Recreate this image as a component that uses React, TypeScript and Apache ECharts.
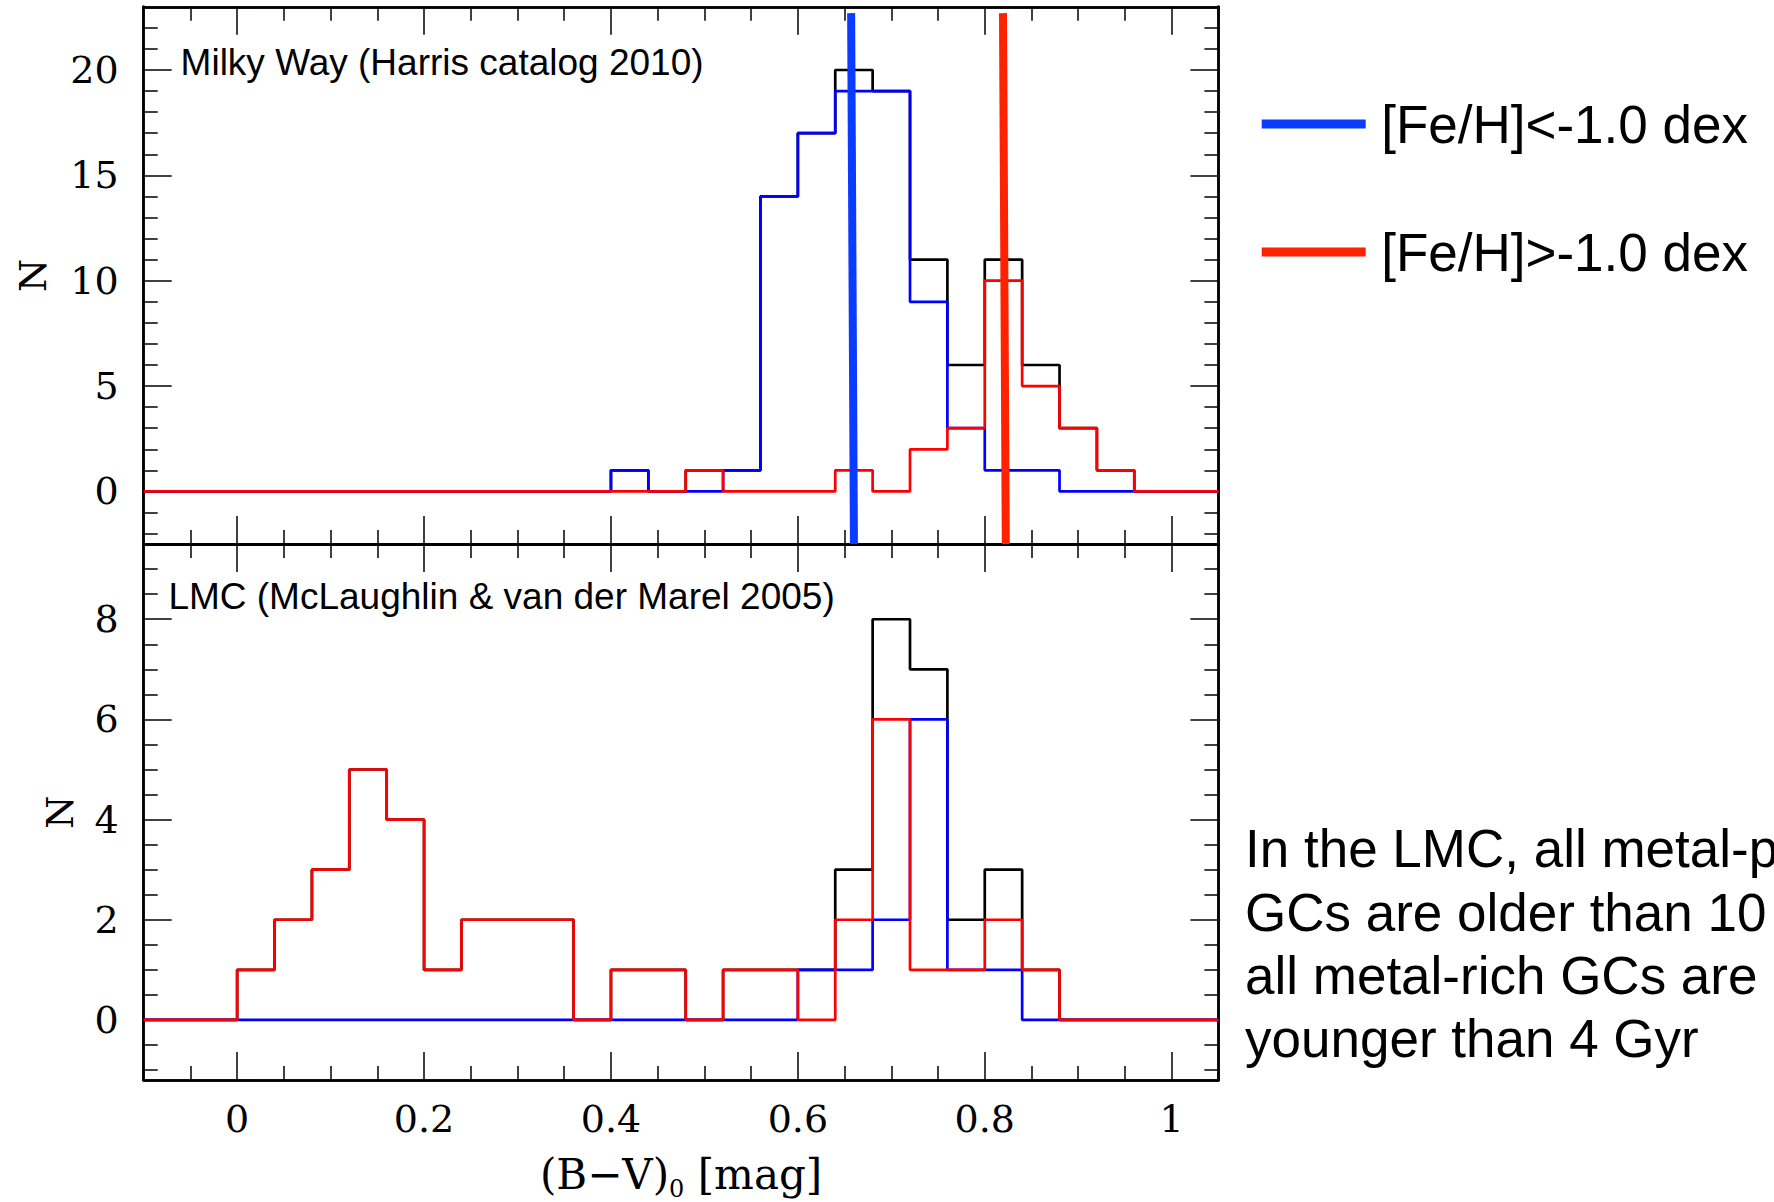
import React, { useEffect, useRef } from 'react';
import * as echarts from 'echarts';

// ---- data ----
const binEdges = [0.0, 0.04, 0.08, 0.12, 0.16, 0.2, 0.24, 0.28, 0.32, 0.36, 0.4, 0.44, 0.48, 0.52, 0.56, 0.6, 0.64, 0.68, 0.72, 0.76, 0.8, 0.84, 0.88, 0.92, 0.96, 1.0];
// Milky Way (Harris catalog 2010)
const mwAll = [0, 0, 0, 0, 0, 0, 0, 0, 0, 0, 1, 0, 1, 1, 14, 17, 20, 19, 11, 6, 11, 6, 3, 1, 0];
const mwPoor = [0, 0, 0, 0, 0, 0, 0, 0, 0, 0, 1, 0, 0, 1, 14, 17, 19, 19, 9, 3, 1, 1, 0, 0, 0];
const mwRich = [0, 0, 0, 0, 0, 0, 0, 0, 0, 0, 0, 0, 1, 0, 0, 0, 1, 0, 2, 3, 10, 5, 3, 1, 0];
// LMC (McLaughlin & van der Marel 2005)
const lmcAll = [1, 2, 3, 5, 4, 1, 2, 2, 2, 0, 1, 1, 0, 1, 1, 1, 3, 8, 7, 2, 3, 1, 0, 0, 0];
const lmcPoor = [0, 0, 0, 0, 0, 0, 0, 0, 0, 0, 0, 0, 0, 0, 0, 1, 1, 2, 6, 1, 1, 0, 0, 0, 0];
const lmcRich = [1, 2, 3, 5, 4, 1, 2, 2, 2, 0, 1, 1, 0, 1, 1, 0, 2, 6, 1, 1, 2, 1, 0, 0, 0];
// peak-colour marker lines in the Milky Way panel (x at top, x at bottom; y top, y bottom)
const poorLineX = [0.657, 0.66];
const richLineX = [0.8195, 0.8225];
const markerLineY = [22.7, -2.5];

// ---- axes ----
const X_MIN = -0.1;
const X_MAX = 1.05;
const xMajorTicks = [0, 0.2, 0.4, 0.6, 0.8, 1.0];
const xMinorTicks = [-0.05, 0.05, 0.1, 0.15, 0.25, 0.3, 0.35, 0.45, 0.5, 0.55, 0.65, 0.7, 0.75, 0.85, 0.9, 0.95];
const mwYMin = -2.5;
const mwYMax = 23;
const mwYMajor = [0, 5, 10, 15, 20];
const mwYMinor = [-2, -1, 1, 2, 3, 4, 6, 7, 8, 9, 11, 12, 13, 14, 16, 17, 18, 19, 21, 22];
const lmcYMin = -1.2;
const lmcYMax = 9.5;
const lmcYMajor = [0, 2, 4, 6, 8];
const lmcYMinor = [-1, -0.5, 0.5, 1, 1.5, 2.5, 3, 3.5, 4.5, 5, 5.5, 6.5, 7, 7.5, 8.5, 9];

const panelTitles = ['Milky Way (Harris catalog 2010)', 'LMC (McLaughlin & van der Marel 2005)'];
const legendNames = ['[Fe/H]<-1.0 dex', '[Fe/H]>-1.0 dex'];
const annotationLines = ['In the LMC, all metal-poor', 'GCs are older than 10 Gyr, while', 'all metal-rich GCs are', 'younger than 4 Gyr'];

const SERIF = '"DejaVu Serif", serif';
const SANS = '"Liberation Sans", Arial, sans-serif';
const C_BLACK = '#000000';
const C_BLUE = '#0000ff';
const C_RED = '#ff0000';
const C_BLUE_THICK = '#0a3cff';
const C_RED_THICK = '#ff2200';

function stepData(counts: number[]) {
  const pts: number[][] = [[X_MIN, 0]];
  for (let i = 0; i < counts.length; i++) pts.push([binEdges[i], counts[i]]);
  pts.push([binEdges[binEdges.length - 1], 0]);
  pts.push([X_MAX, 0]);
  return pts;
}

const frameLine = { show: true, onZero: false, lineStyle: { color: '#000', width: 2.5 } };
const tickStyle = { color: '#000', width: 1.5 };

function makeXAxes(gridIndex: number, showLabels: boolean) {
  const base = { type: 'value', gridIndex, min: X_MIN, max: X_MAX, splitLine: { show: false }, axisLine: frameLine };
  const major = (position: string, labels: boolean) => ({
    ...base,
    position,
    axisTick: { show: true, inside: true, length: 28, customValues: xMajorTicks, lineStyle: tickStyle },
    axisLabel: labels
      ? { show: true, customValues: xMajorTicks, fontFamily: SERIF, fontSize: 38, color: '#000', margin: 20 }
      : { show: false },
    ...(labels
      ? {
          name: '{m|(B\u2212V)}{sub|0}{m| [mag]}',
          nameLocation: 'middle',
          nameGap: 73,
          nameTextStyle: {
            fontFamily: SERIF,
            fontSize: 42,
            color: '#000',
            rich: {
              m: { fontFamily: SERIF, fontSize: 42, lineHeight: 42, verticalAlign: 'top', color: '#000' },
              sub: { fontFamily: SERIF, fontSize: 24, lineHeight: 24, padding: [24, 0, 0, 0], verticalAlign: 'top', color: '#000' },
            },
          },
        }
      : {}),
  });
  const minor = (position: string) => ({
    ...base,
    position,
    axisTick: { show: true, inside: true, length: 14, customValues: xMinorTicks, lineStyle: tickStyle },
    axisLabel: { show: false },
  });
  return [major('bottom', showLabels), minor('bottom'), major('top', false), minor('top')];
}

function makeYAxes(gridIndex: number, min: number, max: number, majorT: number[], minorT: number[], nameGap: number) {
  const base = { type: 'value', gridIndex, min, max, splitLine: { show: false }, axisLine: frameLine };
  const major = (position: string, labels: boolean) => ({
    ...base,
    position,
    axisTick: { show: true, inside: true, length: 28, customValues: majorT, lineStyle: tickStyle },
    axisLabel: labels
      ? { show: true, customValues: majorT, fontFamily: SERIF, fontSize: 38, color: '#000', margin: 25 }
      : { show: false },
    ...(labels
      ? {
          name: 'N',
          nameLocation: 'middle',
          nameRotate: 90,
          nameGap,
          nameTextStyle: { fontFamily: SERIF, fontSize: 38, color: '#000' },
        }
      : {}),
  });
  const minor = (position: string) => ({
    ...base,
    position,
    axisTick: { show: true, inside: true, length: 14, customValues: minorT, lineStyle: tickStyle },
    axisLabel: { show: false },
  });
  return [major('left', true), minor('left'), major('right', false), minor('right')];
}

function histSeries(name: string, counts: number[], color: string, axisIdx: number) {
  return {
    name,
    type: 'line',
    step: 'end',
    xAxisIndex: axisIdx,
    yAxisIndex: axisIdx,
    data: stepData(counts),
    symbol: 'none',
    showSymbol: false,
    silent: true,
    lineStyle: { color, width: 2.7 },
    itemStyle: { color },
    emphasis: { disabled: true },
    z: 2,
  };
}

function markerSeries(name: string, xs: number[], color: string) {
  return {
    name,
    type: 'line',
    xAxisIndex: 0,
    yAxisIndex: 0,
    data: [
      [xs[0], markerLineY[0]],
      [xs[1], markerLineY[1]],
    ],
    symbol: 'none',
    showSymbol: false,
    silent: true,
    color,
    lineStyle: { color, width: 8 },
    itemStyle: { color },
    emphasis: { disabled: true },
    z: 5,
  };
}

export default function App() {
  const ref = useRef<HTMLDivElement>(null);
  useEffect(() => {
    if (!ref.current) return;
    const chart = echarts.init(ref.current, null, { renderer: 'svg' });
    const option: any = {
      animation: false,
      backgroundColor: '#ffffff',
      grid: [
        { left: 143.7, top: 6.8, width: 1074.7, height: 537.3 },
        { left: 143.7, top: 544.1, width: 1074.7, height: 537.6 },
      ],
      xAxis: [...makeXAxes(0, false), ...makeXAxes(1, true)],
      yAxis: [
        ...makeYAxes(0, mwYMin, mwYMax, mwYMajor, mwYMinor, 92),
        ...makeYAxes(1, lmcYMin, lmcYMax, lmcYMajor, lmcYMinor, 65),
      ],
      legend: {
        data: legendNames,
        orient: 'vertical',
        left: 1261.7,
        top: 92,
        padding: 0,
        itemWidth: 104,
        itemHeight: 9,
        itemGap: 64,
        icon: 'rect',
        selectedMode: false,
        textStyle: { fontFamily: SANS, fontSize: 53, lineHeight: 64, color: '#000', padding: [0, 0, 0, 10.5] },
      },
      series: [
        histSeries('MW all', mwAll, C_BLACK, 0),
        histSeries('MW metal-poor', mwPoor, C_BLUE, 0),
        histSeries('MW metal-rich', mwRich, C_RED, 0),
        histSeries('LMC all', lmcAll, C_BLACK, 4),
        histSeries('LMC metal-poor', lmcPoor, C_BLUE, 4),
        histSeries('LMC metal-rich', lmcRich, C_RED, 4),
        markerSeries(legendNames[0], poorLineX, C_BLUE_THICK),
        markerSeries(legendNames[1], richLineX, C_RED_THICK),
      ],
      graphic: [
        {
          type: 'text',
          x: 180.6,
          y: 62.2,
          silent: true,
          style: { text: panelTitles[0], fontFamily: SANS, fontSize: 37, fill: '#000', align: 'left', verticalAlign: 'middle' },
        },
        {
          type: 'text',
          x: 168.4,
          y: 596.5,
          silent: true,
          style: { text: panelTitles[1], fontFamily: SANS, fontSize: 37, fill: '#000', align: 'left', verticalAlign: 'middle' },
        },
        {
          type: 'text',
          x: 1245,
          y: 817.4,
          silent: true,
          style: {
            text: annotationLines.join('\n'),
            fontFamily: SANS,
            fontSize: 53,
            lineHeight: 63.2,
            fill: '#000',
            align: 'left',
            verticalAlign: 'top',
          },
        },
      ],
    };
    chart.setOption(option);
    return () => chart.dispose();
  }, []);
  return <div ref={ref} style={{ position: 'fixed', left: 0, top: 0, width: 1774, height: 1202, background: '#fff' }} />;
}
